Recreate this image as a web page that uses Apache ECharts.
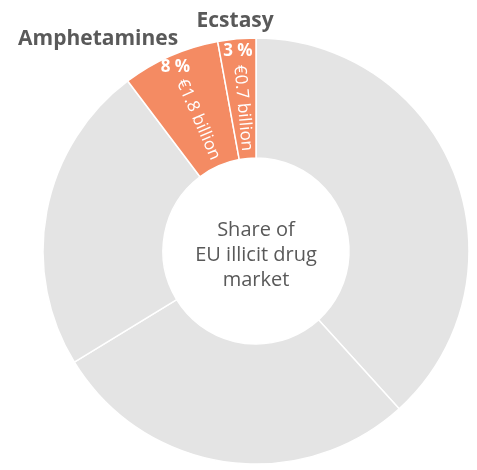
<!DOCTYPE html>
<html>
<head>
<meta charset="utf-8">
<script src="https://cdn.jsdelivr.net/npm/echarts@6/dist/echarts.min.js"></script>
<style>
  html, body { margin: 0; padding: 0; background: #fff; }
  #chart { width: 477px; height: 470px; }
</style>
</head>
<body>
<div id="chart"></div>
<script>
// EU illicit drug market, retail value (€ billion) and rounded share (%)
const drugs = ['Cannabis', 'Heroin', 'Cocaine', 'Amphetamines', 'Ecstasy'];
const billions = [9.3, 6.8, 5.7, 1.8, 0.7];
const shares = [38, 28, 24, 8, 3];
const highlighted = ['Amphetamines', 'Ecstasy'];
const centerText = 'Share of\nEU illicit drug\nmarket';

const ORANGE = '#F48B63';
const GREY = '#E4E4E4';
const FONT = '"Open Sans", sans-serif';
const CENTER = [256, 251];

const isHi = name => highlighted.indexOf(name) >= 0;

const mainData = drugs.map((name, i) => ({
  name: name,
  value: billions[i],
  itemStyle: { color: isHi(name) ? ORANGE : GREY },
}));

// transparent overlay rings, used only to place labels at given radii
function labelRing() {
  return drugs.map((name, i) => ({
    name: name,
    value: billions[i],
    label: { show: isHi(name) },
  }));
}

const clear = { color: 'rgba(0,0,0,0)', borderWidth: 0 };

const chart = echarts.init(document.getElementById('chart'));
chart.setOption({
  animation: false,
  graphic: [{
    type: 'text',
    x: CENTER[0],
    y: CENTER[1] + 4,
    style: {
      text: centerText,
      align: 'center',
      verticalAlign: 'middle',
      textAlign: 'center',
      textVerticalAlign: 'middle',
      fill: '#595959',
      font: '20px ' + FONT,
      lineHeight: 25,
    },
  }],
  series: [
    {
      type: 'pie',
      center: CENTER,
      radius: [93, 213],
      startAngle: 90,
      silent: true,
      itemStyle: { borderColor: '#fff', borderWidth: 1.5 },
      label: { show: false },
      labelLine: { show: false },
      data: mainData,
    },
    {
      // € billion, radial
      type: 'pie',
      center: CENTER,
      radius: [93, 188],
      startAngle: 90,
      silent: true,
      itemStyle: clear,
      labelLine: { show: false },
      label: {
        position: 'inside',
        rotate: 'radial',
        color: '#fff',
        fontFamily: FONT,
        fontSize: 17,
        formatter: p => '€' + p.value + ' billion',
      },
      data: labelRing(),
    },
    {
      // share %, horizontal
      type: 'pie',
      center: CENTER,
      radius: [187, 208],
      startAngle: 90,
      silent: true,
      itemStyle: clear,
      labelLine: { show: false },
      label: {
        position: 'inside',
        rotate: 0,
        color: '#fff',
        fontFamily: FONT,
        fontWeight: 'bold',
        fontSize: 17,
        formatter: p => shares[p.dataIndex] + ' %',
      },
      data: labelRing(),
    },
    {
      // category names outside the ring
      type: 'pie',
      center: CENTER,
      radius: [218, 238],
      startAngle: 90,
      silent: true,
      itemStyle: clear,
      labelLine: { show: false },
      label: {
        position: 'inside',
        rotate: 0,
        color: '#595959',
        fontFamily: FONT,
        fontWeight: 'bold',
        fontSize: 21,
        formatter: '{b}',
      },
      labelLayout: p => (p.dataIndex === 3 ? { dx: -65 } : {}),
      data: labelRing(),
    },
  ],
});
</script>
</body>
</html>
